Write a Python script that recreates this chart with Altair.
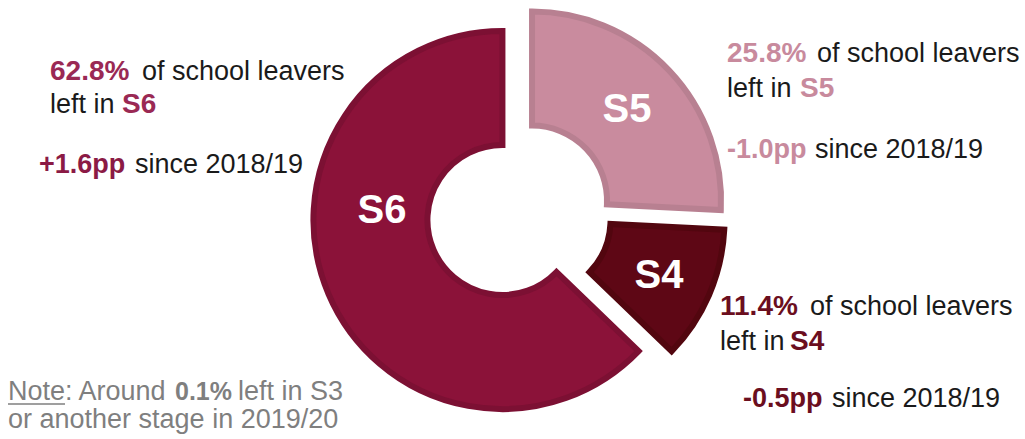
import math
import altair as alt
import pandas as pd

# ---- data ----
stages = ["S5", "S4", "S6"]
shares = [25.8, 11.4, 62.8]
changes = ["-1.0pp", "-0.5pp", "+1.6pp"]
since_text = "since 2018/19"
leavers_text = "of school leavers"
note_share = "0.1%"
note_year = "2019/20"

# ---- style ----
fills = ["#C98B9E", "#5E0715", "#8B1239"]
strokes = ["#B88091", "#52060F", "#7C1033"]
text_colors = ["#C88A9D", "#6B0E1E", "#9A2954"]
pp_colors = ["#C88A9D", "#6B0E1E", "#8B1A45"]
NOTE_COLOR = "#7F7F7F"
FONT = "Liberation Sans"
CX, CY = 519, 213
EXPLODE = 18
R_OUT, R_IN = 189, 75

rows = []
cum = 0.0
for s, v in zip(stages, shares):
    start, end = cum, cum + v
    cum = end
    mid = (start + end) / 2 / 100 * 2 * math.pi
    rows.append(dict(stage=s, share=v, start=start, end=end,
                     cx=CX + EXPLODE * math.sin(mid),
                     cy=CY - EXPLODE * math.cos(mid)))
pie = pd.DataFrame(rows)

arcs = alt.Chart(pie).mark_arc(
    outerRadius=R_OUT, innerRadius=R_IN, strokeWidth=6, strokeJoin="miter"
).encode(
    theta=alt.Theta("start:Q", scale=alt.Scale(domain=[0, 100], range=[0, 2 * math.pi])),
    theta2="end:Q",
    x=alt.X("cx:Q", scale=None, axis=None),
    y=alt.Y("cy:Q", scale=None, axis=None),
    fill=alt.Fill("stage:N", scale=alt.Scale(domain=stages, range=fills), legend=None),
    stroke=alt.Stroke("stage:N", scale=alt.Scale(domain=stages, range=strokes), legend=None),
)

# slice labels (annotation positions)
label_pos = {"S5": (627, 122), "S4": (659, 288), "S6": (382, 223)}
lab_df = pd.DataFrame([dict(t=s, x=label_pos[s][0], y=label_pos[s][1]) for s in stages])
slice_labels = alt.Chart(lab_df).mark_text(
    font=FONT, fontSize=40, fontWeight="bold", color="white", align="center", baseline="alphabetic"
).encode(x=alt.X("x:Q", scale=None), y=alt.Y("y:Q", scale=None), text="t:N")

# annotation blocks: (bold x, regular x, baseline) per line
block_pos = {
    "S6": [(50, 142, 80), (122, 50, 113), (39, 135, 173)],
    "S5": [(727, 817, 62), (800, 727, 97), (727, 815, 158)],
    "S4": [(720, 810, 315), (790, 720, 350), (743, 832, 407)],
}
segs = []
for i, s in enumerate(stages):
    p = block_pos[s]
    segs.append(dict(t=f"{shares[i]:.1f}%", x=p[0][0], y=p[0][2], c=text_colors[i], w="bold", f=28))
    segs.append(dict(t=leavers_text, x=p[0][1], y=p[0][2], c="#1A1A1A", w="normal", f=27))
    segs.append(dict(t="left in", x=p[1][1], y=p[1][2], c="#1A1A1A", w="normal", f=27))
    segs.append(dict(t=s, x=p[1][0], y=p[1][2], c=text_colors[i], w="bold", f=28))
    segs.append(dict(t=changes[i], x=p[2][0], y=p[2][2], c=pp_colors[i], w="bold", f=27))
    segs.append(dict(t=since_text, x=p[2][1], y=p[2][2], c="#1A1A1A", w="normal", f=27))
segs.append(dict(t="Note", x=8, y=400, c=NOTE_COLOR, w="normal", f=27))
segs.append(dict(t=": Around", x=65, y=400, c=NOTE_COLOR, w="normal", f=27))
segs.append(dict(t=note_share, x=175, y=400, c=NOTE_COLOR, w="bold", f=25))
segs.append(dict(t="left in S3", x=238, y=400, c=NOTE_COLOR, w="normal", f=27))
segs.append(dict(t=f"or another stage in {note_year}", x=8, y=428, c=NOTE_COLOR, w="normal", f=27))
seg_df = pd.DataFrame(segs)


def text_layer(weight):
    return alt.Chart(seg_df).transform_filter(alt.datum.w == weight).mark_text(
        font=FONT, fontWeight=weight, align="left", baseline="alphabetic"
    ).encode(
        x=alt.X("x:Q", scale=None), y=alt.Y("y:Q", scale=None), text="t:N",
        color=alt.Color("c:N", scale=None),
        size=alt.Size("f:Q", scale=None, legend=None),
    )

underline = alt.Chart(pd.DataFrame([{"a": 0}])).mark_rule(color=NOTE_COLOR, strokeWidth=1.5).encode(
    x=alt.value(8), x2=alt.value(65), y=alt.value(404)
)

chart = alt.layer(arcs, slice_labels, text_layer("bold"), text_layer("normal"), underline).properties(
    width=1025, height=439, padding=0, autosize=alt.AutoSizeParams(type="none")
).configure_view(stroke=None)

chart.save("out.html", embed_options={"renderer": "svg", "actions": False})
